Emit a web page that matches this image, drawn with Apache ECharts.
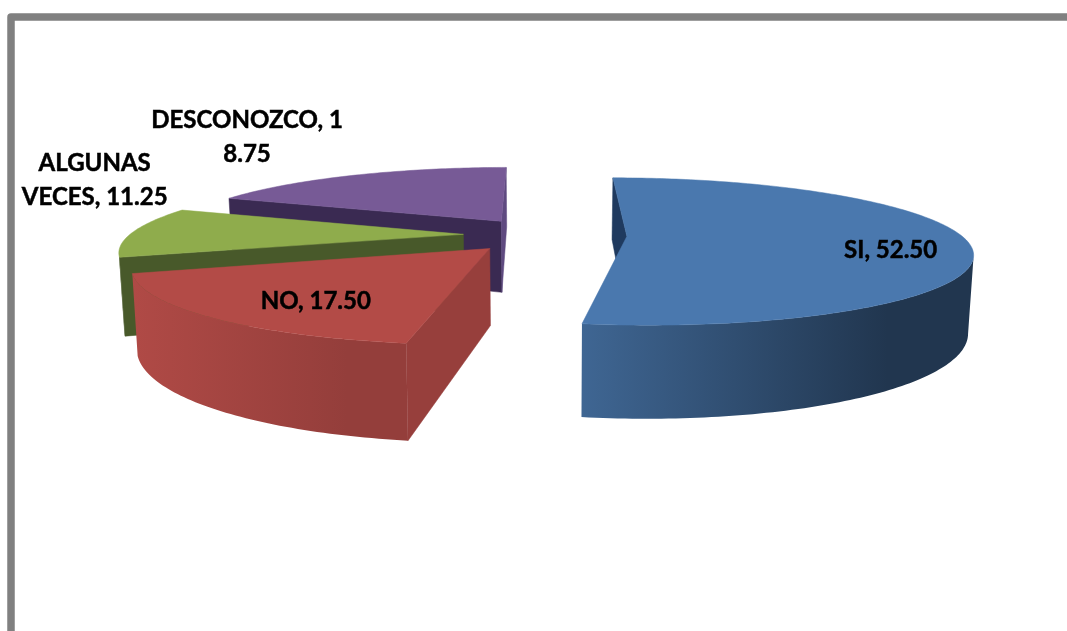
<!DOCTYPE html>
<html><head><meta charset="utf-8">
<style>html,body{margin:0;padding:0;background:#fff}#c{width:1067px;height:631px}</style>
<script src="https://cdn.jsdelivr.net/npm/echarts@6/dist/echarts.min.js"></script>
</head><body><div id="c"></div>
<script>
const categories = ['SI', 'NO', 'ALGUNAS VECES', 'DESCONOZCO'];
const values = [52.50, 17.50, 11.25, 18.75];
const labelTexts = ['SI, 52.50', 'NO, 17.50', 'ALGUNAS\nVECES, 11.25', 'DESCONOZCO, 1\n8.75'];
// label anchor in slice-local disc units (right, front)
const labelOffsets = [[0.745, 0.196], [-0.415, 0.611], [-1.361, -0.922], [-1.115, -1.76]];
const topColors = ['#4a78ae', '#b34b47', '#8fac4c', '#775a96'];
const wallColors = [['#3f6693', '#21364f'], ['#b04a46', '#943e3b'], ['#4d5f2a', '#46572a'], ['#5f4a80', '#5f4a80']];
const startWallColors = ['#1f3a5f', '#973f3c', '#48592a', '#3a2a52'];
const endWallColors = ['#3f6693', '#973f3c', '#48592a', '#5f4a80'];
const paintRank = [3, 2, 1, 0];

const CX = 545, CY = 235, R = 334, RY = 70, K = 0.205, H = 74, EXPLODE = 0.245, XB = 0.987;
const total = values.reduce((a, b) => a + b, 0);
const rad = d => d * Math.PI / 180;

function project(u, v, z) {
  const s = 1 / (1 - K * v);
  return [CX + R * u * s * (z ? XB : 1), CY + RY * v * s + (z ? H * s : 0)];
}

function renderSlice(params, api) {
  const i = params.dataIndex;
  const before = values.slice(0, i).reduce((a, b) => a + b, 0);
  const a0 = before / total * 360;
  const a1 = a0 + api.value(0) / total * 360;
  const mid = rad((a0 + a1) / 2);
  const ou = EXPLODE * Math.sin(mid), ov = -EXPLODE * Math.cos(mid);
  const pt = (deg, z) => project(ou + Math.sin(rad(deg)), ov - Math.cos(rad(deg)), z);
  const arcTop = [], arcBottom = [];
  const visTop = [], visBottom = [];
  for (let d = a0; d <= a1 + 1e-6; d += 1) {
    const t = pt(d, 0);
    arcTop.push(t);
    arcBottom.push(pt(d, 1));
    if (pt(d + 1, 0)[0] < t[0] || pt(d - 1, 0)[0] > t[0]) {
      visTop.push(t);
      visBottom.push(pt(d, 1));
    }
  }
  const apexTop = project(ou, ov, 0), apexBottom = project(ou, ov, 1);
  const z2 = paintRank[i] * 10;
  const poly = (points, fill, dz) => ({
    type: 'polygon', z2: z2 + dz, shape: { points: points },
    style: { fill: fill, stroke: fill.colorStops ? null : fill, lineWidth: 0.5 }
  });
  const grad = (c) => ({ type: 'linear', x: 0, y: 0, x2: 1, y2: 0,
    colorStops: [{ offset: 0, color: c[0] }, { offset: 0.78, color: c[1] }, { offset: 1, color: c[1] }] });
  const n = arcTop.length - 1;
  const off = labelOffsets[i];
  const lp = project(ou + off[0], ov + off[1], 0);
  const camV = 1 / K;
  const startVisible = (-ou) * (-Math.cos(rad(a0))) + (camV - ov) * (-Math.sin(rad(a0))) > 0;
  const endVisible = (-ou) * Math.cos(rad(a1)) + (camV - ov) * Math.sin(rad(a1)) > 0;
  const children = [];
  if (startVisible) children.push(poly([apexTop, arcTop[0], arcBottom[0], apexBottom], startWallColors[i], 0));
  if (endVisible) children.push(poly([apexTop, arcTop[n], arcBottom[n], apexBottom], endWallColors[i], 1));
  if (visTop.length > 1) children.push(poly(visTop.concat(visBottom.slice().reverse()), grad(wallColors[i]), 2));
  children.push(poly([apexTop].concat(arcTop), topColors[i], 3));
  children.push({ type: 'text', z2: 100, x: lp[0], y: lp[1],
    style: { text: labelTexts[i], fill: '#000', stroke: '#000', lineWidth: 0.5, align: 'center', verticalAlign: 'middle',
             font: 'bold 24px Lato', lineHeight: 34 } });
  return { type: 'group', children: children };
}

const chart = echarts.init(document.getElementById('c'), null, { renderer: 'canvas' });
chart.setOption({
  backgroundColor: '#fff',
  animation: false,
  graphic: [{
    type: 'polyline', silent: true, z: 0,
    shape: { points: [[11, 640], [11, 17], [1075, 17]] },
    style: { stroke: '#808080', lineWidth: 7.5, fill: null, lineJoin: 'round' }
  }],
  series: [{
    type: 'custom',
    coordinateSystem: 'none',
    renderItem: renderSlice,
    data: categories.map((c, i) => ({ name: c, value: [values[i]] }))
  }]
});
</script></body></html>
